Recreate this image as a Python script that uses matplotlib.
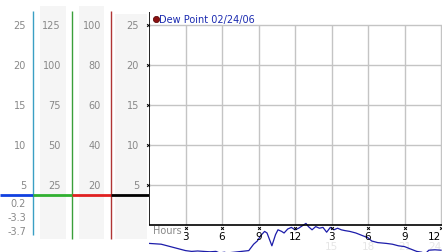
import matplotlib
matplotlib.use("Agg")
import matplotlib.pyplot as plt

# dew point readings over the day (hours since midnight, deg)
hours = [0.0, 0.5, 1.0, 1.5, 2.0, 2.5, 3.0, 3.5, 4.0, 4.5, 5.0, 5.5, 5.8, 6.2,
         6.6, 7.0, 7.5, 8.0, 8.2, 8.6, 8.9, 9.2, 9.5, 9.7, 9.9, 10.1, 10.4,
         10.6, 10.9, 11.1, 11.4, 11.7, 12.0, 12.3, 12.6, 12.9, 13.1, 13.4,
         13.7, 14.0, 14.3, 14.6, 14.9, 15.2, 15.5, 15.8, 16.1, 16.5, 17.0,
         17.5, 18.0, 18.3, 18.8, 19.5, 20.0, 20.5, 21.0, 21.5, 22.0, 22.4,
         22.7, 23.0, 23.5, 24.0]
dew_point = [-2.3, -2.35, -2.4, -2.6, -2.8, -3.0, -3.2, -3.3, -3.25, -3.3,
             -3.35, -3.3, -3.5, -3.4, -3.6, -3.7, -3.7, -3.5, -3.2, -2.4,
             -2.0, -1.3, -0.8, -1.0, -1.8, -2.6, -1.2, -0.6, -0.8, -1.0,
             -0.5, -0.3, -0.6, -0.4, -0.1, 0.2, -0.2, -0.6, -0.2, -0.4,
             -0.3, -0.9, -0.3, -0.6, -0.4, -0.6, -0.7, -0.8, -1.0, -1.3,
             -1.6, -2.0, -2.2, -2.3, -2.4, -2.6, -2.7, -3.0, -3.3, -3.4,
             -3.6, -3.15, -3.1, -3.15]

legend_label = "Dew Point 02/24/06"
grid_values = [25, 20, 15, 10, 5]
col1_labels = ["25", "20", "15", "10", "5"]
col2_labels = ["125", "100", "75", "50", "25"]
col3_labels = ["100", "80", "60", "40", "20"]
col4_labels = ["25", "20", "15", "10", "5"]
stat_labels = ["0.2", "-3.3", "-3.7"]
hour_ticks = [3, 6, 9, 12, 15, 18, 21, 24]
hour_labels = ["3", "6", "9", "12", "3", "6", "9", "12"]
pm_ticks = [15, 18, 21, 24]
pm_labels = ["15", "18", "21", "24"]

W, H = 442, 253
ZERO_PX, PX_PER = 226.0, 8.0
XMAX = 24.08


def py(y):
    # pixel row -> value on the shared vertical scale
    return (ZERO_PX - y) / PX_PER


YLIM = (py(H), py(0))
GRAY = "#888888"
FS = 7

fig = plt.figure(figsize=(W / 100, H / 100), dpi=100)

# ---- left scale panel ----
axl = fig.add_axes([0, 0, 149 / W, 1])
axl.set_xlim(0, 149)
axl.set_ylim(*YLIM)
axl.axis("off")

for x0, x1, ytop in [(40, 66, 7), (79, 104, 7), (115, 147, 15)]:
    axl.fill_between([x0, x1], py(240), py(ytop), color="#f5f5f5", lw=0)

for x, col, ybot in [(33, "#3a9fc4", 236), (72, "#3a9f3a", 240), (111, "#b03535", 240)]:
    axl.vlines(x, py(ybot), py(12), color=col, lw=1.0)

base = py(196)
for x0, x1, col in [(0, 33, "#1040e0"), (33, 72, "#30b030"), (72, 111, "#e02020"), (111, 149, "black")]:
    axl.hlines(base, x0, x1, color=col, lw=2.0)

for labels, xr in [(col1_labels, 26), (col2_labels, 61), (col3_labels, 101), (col4_labels, 139)]:
    for v, lab in zip(grid_values, labels):
        axl.text(xr, v, lab, ha="right", va="center", fontsize=FS, color=GRAY)

for y, lab in zip([204, 218, 232], stat_labels):
    axl.text(26, py(y), lab, ha="right", va="center", fontsize=FS, color=GRAY)

# ---- main plot ----
ax = fig.add_axes([149 / W, 0, 293 / W, 1])
ax.set_xlim(0, XMAX)
ax.set_ylim(*YLIM)
ax.axis("off")

ax.hlines(grid_values, 0, XMAX, color="#c4c4c4", lw=1.0, zorder=1)
ax.vlines(hour_ticks, 0, 25, color="#c4c4c4", lw=1.0, zorder=1)
ax.vlines(0, 0, py(13), color="black", lw=1.2, zorder=3)
ax.axhline(0, color="black", lw=1.2, zorder=3)

ax.plot([-0.12] * len(grid_values), grid_values, ls="none", marker="x",
        ms=2, mew=0.7, color="black", clip_on=False, zorder=4)
ax.plot(hour_ticks, [py(229)] * len(hour_ticks), ls="none", marker="x",
        ms=2, mew=0.7, color="black", zorder=4)

ax.plot(hours, dew_point, color="#1c1caa", lw=0.9, zorder=2)

ax.text(0.3, py(231), "Hours", ha="left", va="center", fontsize=FS, color=GRAY)


def tick_text(h, y, lab, color, z):
    # the last label sits against the right edge instead of being cut
    if h >= 24:
        ax.text(XMAX - 0.05, y, lab, ha="right", va="center", fontsize=FS + 0.5,
                color=color, zorder=z)
    else:
        ax.text(h, y, lab, ha="center", va="center", fontsize=FS + 0.5,
                color=color, zorder=z)


for h, lab in zip(hour_ticks, hour_labels):
    tick_text(h, py(237), lab, "black", 5)
for h, lab in zip(pm_ticks, pm_labels):
    tick_text(h, py(247), lab, "#e6e6e6", 1)

ax.plot([0.55], [py(20)], marker="o", ms=4.5, color="#8b1010", mec="#500000",
        mew=0.5, ls="none")
ax.text(0.85, py(20), legend_label, ha="left", va="center", fontsize=FS,
        color="#1a2ab0")

fig.savefig("out.png", dpi=100)
